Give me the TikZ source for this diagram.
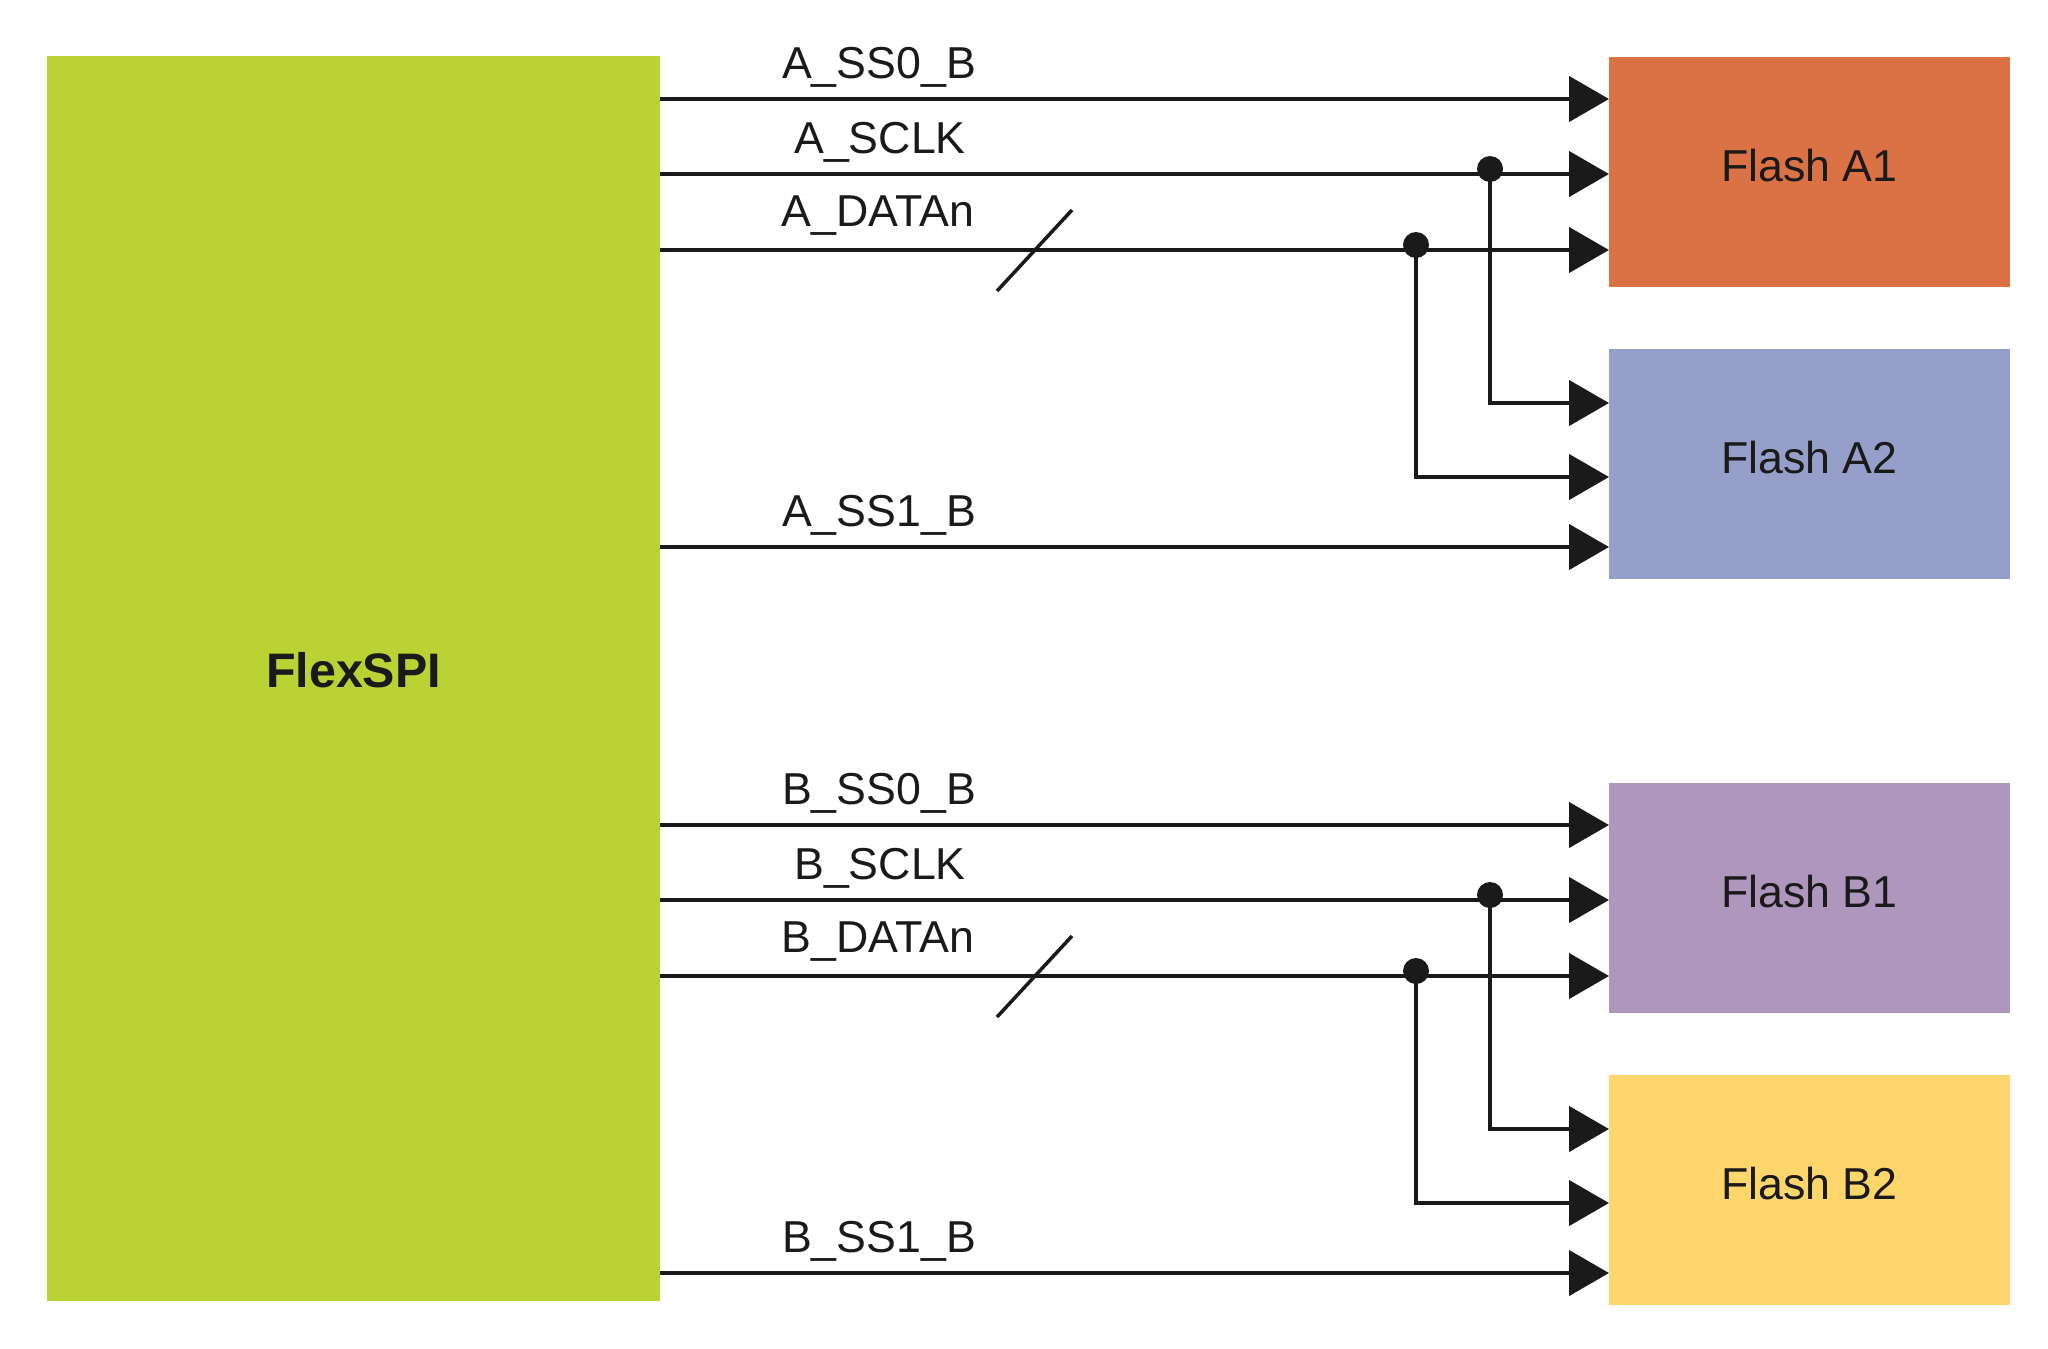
\documentclass[tikz,border=0pt]{standalone}
\usepackage{fontspec}
\setmainfont{Liberation Sans}
\usetikzlibrary{arrows.meta}
\definecolor{cgreen}{HTML}{BBD234}
\definecolor{corange}{HTML}{DB7246}
\definecolor{cblue}{HTML}{959FC9}
\definecolor{cpurple}{HTML}{AF96BD}
\definecolor{cyellow}{HTML}{FFD66B}
\definecolor{ink}{HTML}{1A1A1A}
\tikzset{
  flashbox/.style={rectangle, inner sep=0pt, outer sep=0pt, minimum width=401pt, minimum height=230pt,
    text=ink, font=\fontsize{44.7}{50}\selectfont, text height=32pt, text depth=13pt},
  sig/.style={draw=ink, line width=4.5pt, -{Triangle[length=40pt,width=45pt]}},
  wire/.style={draw=ink, line width=4.5pt},
  slashline/.style={draw=ink, line width=3.5pt},
  siglabel/.style={anchor=base, inner sep=0pt, text=ink, font=\fontsize{44.7}{50}\selectfont},
  dot/.style={fill=ink}
}
\begin{document}
\begin{tikzpicture}[x=1pt,y=-1pt]
\useasboundingbox (0,0) rectangle (2048,1349);
\fill[white] (0,0) rectangle (2048,1349);
% FlexSPI block
\node[rectangle, inner sep=0pt, outer sep=0pt, fill=cgreen, minimum width=613pt, minimum height=1245pt,
  text=ink, font=\bfseries\fontsize{48.4}{54}\selectfont, text height=35pt, text depth=18pt]
  (flex) at (353.5,678.5) {FlexSPI};
% Flash blocks
\node[flashbox, fill=corange] (fA1) at (1809.5,172) {Flash A1};
\node[flashbox, fill=cblue]   (fA2) at (1809.5,464) {Flash A2};
\node[flashbox, fill=cpurple] (fB1) at (1809.5,898) {Flash B1};
\node[flashbox, fill=cyellow] (fB2) at (1809.5,1190) {Flash B2};

% ---- Group A ----
\draw[sig] (flex.east |- 0,99) -- (fA1.west |- 0,99);
\draw[sig] (flex.east |- 0,174) -- (fA1.west |- 0,174);
\draw[sig] (flex.east |- 0,250) -- (fA1.west |- 0,250);
\draw[sig] (flex.east |- 0,547) -- (fA2.west |- 0,547);
\coordinate (jA1) at (1490,174);
\coordinate (jA2) at (1416,250);
\draw[sig] (jA1) |- (fA2.west |- 0,403);
\draw[sig] (jA2) |- (fA2.west |- 0,477);
\fill[dot] (1490,169) circle[radius=13pt];
\fill[dot] (1416,245) circle[radius=13pt];
\coordinate (sA1) at (997,291);
\coordinate (sA2) at (1072,210);
\draw[slashline] (sA1) -- (sA2);
\node[siglabel] (lA1) at (879,78) {A\_SS0\_B};
\node[siglabel] (lA2) at (880,153) {A\_SCLK};
\node[siglabel] (lA3) at (878,226) {A\_DATAn};
\node[siglabel] (lA4) at (879,526) {A\_SS1\_B};

% ---- Group B ----
\draw[sig] (flex.east |- 0,825) -- (fB1.west |- 0,825);
\draw[sig] (flex.east |- 0,900) -- (fB1.west |- 0,900);
\draw[sig] (flex.east |- 0,976) -- (fB1.west |- 0,976);
\draw[sig] (flex.east |- 0,1273) -- (fB2.west |- 0,1273);
\coordinate (jB1) at (1490,900);
\coordinate (jB2) at (1416,976);
\draw[sig] (jB1) |- (fB2.west |- 0,1129);
\draw[sig] (jB2) |- (fB2.west |- 0,1203);
\fill[dot] (1490,895) circle[radius=13pt];
\fill[dot] (1416,971) circle[radius=13pt];
\coordinate (sB1) at (997,1017);
\coordinate (sB2) at (1072,936);
\draw[slashline] (sB1) -- (sB2);
\node[siglabel] (lB1) at (879,804) {B\_SS0\_B};
\node[siglabel] (lB2) at (880,879) {B\_SCLK};
\node[siglabel] (lB3) at (878,952) {B\_DATAn};
\node[siglabel] (lB4) at (879,1252) {B\_SS1\_B};
\end{tikzpicture}
\end{document}
